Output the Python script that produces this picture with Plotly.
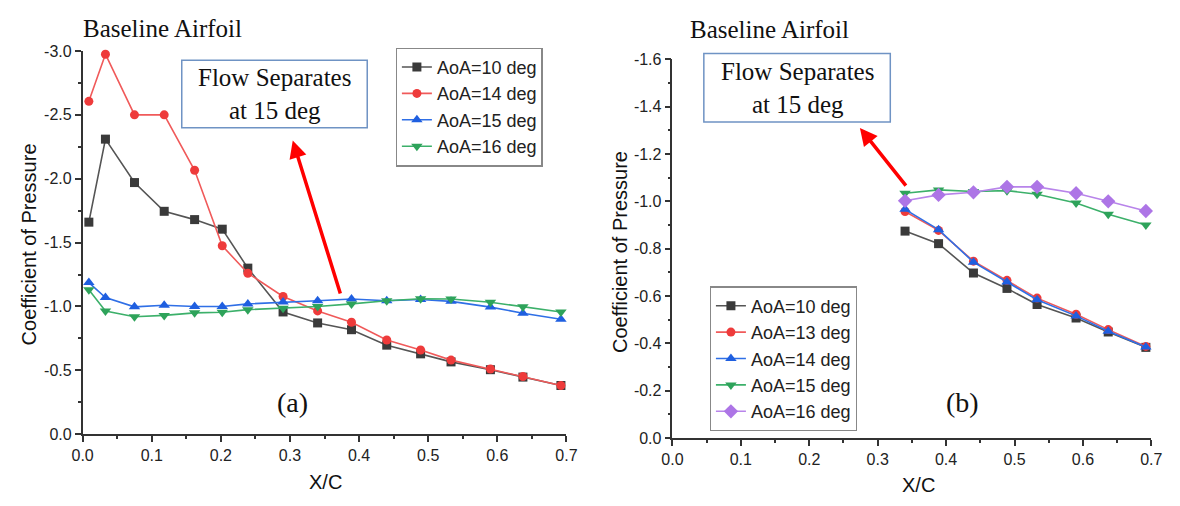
import plotly.graph_objects as go

# ---- data ------------------------------------------------------------
# (a) pressure taps along the chord, baseline airfoil
x_a = [0.009, 0.033, 0.075, 0.118, 0.162, 0.202, 0.239, 0.29, 0.34, 0.389,
       0.44, 0.489, 0.533, 0.59, 0.637, 0.692]
cp_a_10 = [-1.66, -2.31, -1.97, -1.745, -1.68, -1.605, -1.30, -0.957, -0.871,
           -0.818, -0.697, -0.629, -0.566, -0.505, -0.447, -0.381]
cp_a_14 = [-2.606, -2.975, -2.50, -2.50, -2.066, -1.475, -1.26, -1.078, -0.965,
           -0.876, -0.737, -0.659, -0.58, -0.51, -0.452, -0.381]
cp_a_15 = [-1.187, -1.07, -0.997, -1.01, -1.0, -1.0, -1.02, -1.035, -1.045,
           -1.058, -1.045, -1.055, -1.04, -0.995, -0.947, -0.90]
cp_a_16 = [-1.13, -0.965, -0.92, -0.93, -0.95, -0.955, -0.975, -0.985, -1.0,
           -1.02, -1.045, -1.06, -1.058, -1.033, -0.997, -0.957]

# (b) aft taps only
x_b = [0.34, 0.389, 0.44, 0.489, 0.533, 0.59, 0.637, 0.692]
cp_b_10 = [-0.874, -0.821, -0.697, -0.632, -0.564, -0.507, -0.448, -0.383]
cp_b_13 = [-0.957, -0.877, -0.747, -0.666, -0.591, -0.523, -0.458, -0.387]
cp_b_14 = [-0.966, -0.88, -0.743, -0.659, -0.584, -0.516, -0.451, -0.385]
cp_b_15 = [-1.034, -1.048, -1.041, -1.045, -1.03, -0.993, -0.945, -0.90]
cp_b_16 = [-1.002, -1.027, -1.038, -1.061, -1.061, -1.034, -1.0, -0.959]

# arrow end points (data units): head, tail
arrow_a = [(0.304, -2.30), (0.3735, -1.09)]
arrow_b = [(0.274, -1.31), (0.343, -1.06)]

# tick labels
x_ticks = [0.0, 0.1, 0.2, 0.3, 0.4, 0.5, 0.6, 0.7]
x_ticklabels = ["0.0", "0.1", "0.2", "0.3", "0.4", "0.5", "0.6", "0.7"]
y_ticks_a = [0.0, -0.5, -1.0, -1.5, -2.0, -2.5, -3.0]
y_ticklabels_a = ["0.0", "-0.5", "-1.0", "-1.5", "-2.0", "-2.5", "-3.0"]
y_ticks_b = [0.0, -0.2, -0.4, -0.6, -0.8, -1.0, -1.2, -1.4, -1.6]
y_ticklabels_b = ["0.0", "-0.2", "-0.4", "-0.6", "-0.8", "-1.0", "-1.2", "-1.4", "-1.6"]

# ---- styling ---------------------------------------------------------
W, H = 1180, 506
SANS = "Liberation Sans, Arial, sans-serif"
SERIF = "Liberation Serif, Times New Roman, serif"
AX = "#333333"

series_style = {
    "10": dict(symbol="square", line="#555555", marker="#3a3a3a"),
    "13": dict(symbol="circle", line="#f05a5a", marker="#ee3b3b"),
    "14": dict(symbol="circle", line="#f05a5a", marker="#ee3b3b"),
    "14b": dict(symbol="triangle-up", line="#2f6fe6", marker="#1f5fe0"),
    "15": dict(symbol="triangle-up", line="#2f6fe6", marker="#1f5fe0"),
    "16": dict(symbol="triangle-down", line="#3cb06a", marker="#2ea35a"),
    "15b": dict(symbol="triangle-down", line="#3cb06a", marker="#2ea35a"),
    "16b": dict(symbol="diamond", line="#b884ea", marker="#ad75e6"),
}


def px(x):
    return x / W


def py(y):
    return 1 - y / H


def trace(x, y, name, key, xa, ya, legend):
    s = series_style[key]
    size = 10 if "triangle" in s["symbol"] else 9
    if s["symbol"] == "diamond":
        size = 11
    return go.Scatter(
        x=x, y=y, name=name, mode="lines+markers", xaxis=xa, yaxis=ya,
        legend=legend, cliponaxis=False,
        line=dict(color=s["line"], width=1.6),
        marker=dict(symbol=s["symbol"], size=size, color=s["marker"],
                    line=dict(width=0)),
    )


fig = go.Figure()
fig.add_trace(trace(x_a, cp_a_10, "AoA=10 deg", "10", "x", "y", "legend"))
fig.add_trace(trace(x_a, cp_a_14, "AoA=14 deg", "14", "x", "y", "legend"))
fig.add_trace(trace(x_a, cp_a_15, "AoA=15 deg", "15", "x", "y", "legend"))
fig.add_trace(trace(x_a, cp_a_16, "AoA=16 deg", "16", "x", "y", "legend"))

fig.add_trace(trace(x_b, cp_b_10, "AoA=10 deg", "10", "x2", "y2", "legend2"))
fig.add_trace(trace(x_b, cp_b_13, "AoA=13 deg", "13", "x2", "y2", "legend2"))
fig.add_trace(trace(x_b, cp_b_14, "AoA=14 deg", "14b", "x2", "y2", "legend2"))
fig.add_trace(trace(x_b, cp_b_15, "AoA=15 deg", "15b", "x2", "y2", "legend2"))
fig.add_trace(trace(x_b, cp_b_16, "AoA=16 deg", "16b", "x2", "y2", "legend2"))

axis_common = dict(
    showline=True, linecolor=AX, linewidth=1.5, mirror=False,
    showgrid=False, zeroline=False, ticks="outside", ticklen=6,
    tickwidth=1.5, tickcolor=AX, tickmode="array",
    tickfont=dict(family=SANS, size=16, color="#222222"),
)
minor_x = dict(tickmode="linear", tick0=0, dtick=0.05, ticks="outside",
               ticklen=3, tickwidth=1.5, tickcolor=AX)

legend_common = dict(xanchor="left", yanchor="top", bordercolor="#888888",
                     borderwidth=1.2, bgcolor="white", tracegroupgap=0,
                     font=dict(family=SANS, size=18, color="#222222"))

fig.update_layout(
    width=W, height=H, margin=dict(l=0, r=0, t=0, b=0),
    paper_bgcolor="white", plot_bgcolor="white",
    xaxis=dict(axis_common, domain=[px(73), px(566)], range=[0, 0.7],
               tickvals=x_ticks, ticktext=x_ticklabels, anchor="y",
               minor=minor_x),
    yaxis=dict(axis_common, domain=[py(441), py(44.5)], range=[0, -3.0],
               tickvals=y_ticks_a, ticktext=y_ticklabels_a, anchor="x",
               minor=dict(tickmode="linear", tick0=0, dtick=0.25,
                          ticks="outside", ticklen=3, tickwidth=1.5,
                          tickcolor=AX)),
    xaxis2=dict(axis_common, domain=[px(674), px(1162)], range=[0, 0.7],
                tickvals=x_ticks, ticktext=x_ticklabels, anchor="y2",
                minor=minor_x),
    yaxis2=dict(axis_common, domain=[py(445), py(53)], range=[0, -1.6],
                tickvals=y_ticks_b, ticktext=y_ticklabels_b, anchor="x2",
                minor=dict(tickmode="linear", tick0=0, dtick=0.1,
                           ticks="outside", ticklen=3, tickwidth=1.5,
                           tickcolor=AX)),
    legend=dict(legend_common, x=px(392), y=py(41)),
    legend2=dict(legend_common, x=px(712), y=py(288)),
    showlegend=True,
)

# boxed notes
for x0, y0, x1, y1 in [(174, 54, 363, 124), (706, 47, 896, 118)]:
    fig.add_shape(type="rect", xref="paper", yref="paper",
                  x0=px(x0), x1=px(x1), y0=py(y1), y1=py(y0),
                  line=dict(color="#6f93c4", width=1.5), fillcolor="white")
    fig.add_annotation(xref="paper", yref="paper", x=px((x0 + x1) / 2),
                       y=py((y0 + y1) / 2), text="Flow Separates<br>at 15 deg",
                       showarrow=False, xanchor="center", yanchor="middle",
                       font=dict(family=SERIF, size=25, color="#111111"))

# arrows pointing at the notes
for (hx, hy), (tx, ty), xa, ya in [(arrow_a[0], arrow_a[1], "x", "y"),
                                   (arrow_b[0], arrow_b[1], "x2", "y2")]:
    fig.add_annotation(x=hx, y=hy, ax=tx, ay=ty, xref=xa, yref=ya,
                       axref=xa, ayref=ya, text="", showarrow=True,
                       arrowhead=2, arrowsize=1.0, arrowwidth=3.5,
                       arrowcolor="#ff0000")

# titles, axis titles, panel labels
texts = [
    ("Baseline Airfoil", 154, 21, SERIF, 25, 0),
    ("Baseline Airfoil", 773, 22, SERIF, 25, 0),
    ("(a)", 287, 408, SERIF, 28, 0),
    ("(b)", 970, 408, SERIF, 28, 0),
    ("X/C", 320, 490, SANS, 20, 0),
    ("X/C", 925, 494, SANS, 20, 0),
    ("Coefficient of Pressure", 18, 245, SANS, 20, -90),
    ("Coefficient of Pressure", 620, 252, SANS, 20, -90),
]
for t, x, y, fam, size, ang in texts:
    fig.add_annotation(xref="paper", yref="paper", x=px(x), y=py(y), text=t,
                       showarrow=False, xanchor="center", yanchor="middle",
                       textangle=ang,
                       font=dict(family=fam, size=size, color="#111111"))

fig.write_html("out.html")
